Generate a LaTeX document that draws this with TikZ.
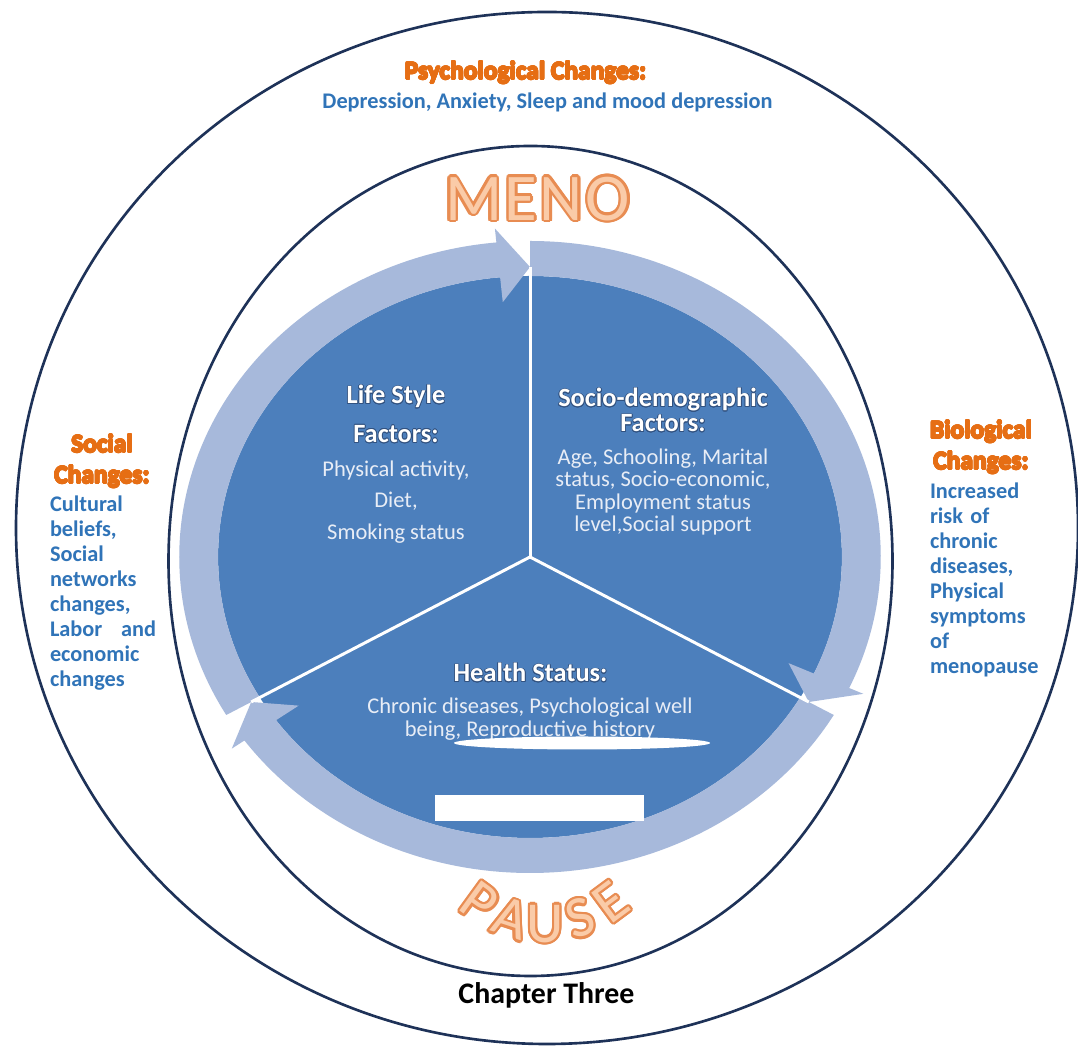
\documentclass[tikz,border=0pt]{standalone}
\usepackage{fontspec}
\setmainfont{Carlito}
\usepackage[copies]{contour}
\contourlength{0.4pt}

\definecolor{navyline}{RGB}{30,50,88}
\definecolor{discblue}{RGB}{76,127,188}
\definecolor{ringblue}{RGB}{167,185,219}
\definecolor{headorange}{RGB}{230,110,20}
\definecolor{sideblue}{RGB}{48,116,184}
\definecolor{bodywhite}{RGB}{232,237,246}
\definecolor{titleshade}{RGB}{50,82,128}
\definecolor{wordfill}{RGB}{250,203,168}
\definecolor{wordline}{RGB}{232,140,82}

% orange headings with a soft rim, white segment titles with a dark rim
\newcommand\orangeglow[1]{\contour{headorange}{#1}}
\newcommand\titlerim[1]{\contour{titleshade}{#1}}

% curved arrow in the ring: tail angle #1, tip angle #2 (runs clockwise)
\newcommand\ringarrow[2]{%
  \fill[ringblue] (#1:316) arc[start angle=#1, end angle={#2+5.5}, radius=316]
    -- ({#2+5.5}:330) -- (#2:290) -- ({#2+5.5}:256) -- ({#2+5.5}:281)
    arc[start angle={#2+5.5}, end angle=#1, radius=281] -- cycle;}

\begin{document}
\begin{tikzpicture}[x=0.02cm, y=0.02cm,
  boundary/.style={draw=navyline, line width=1.5pt},
  headtext/.style={text=headorange, font=\fontsize{14.5}{17.6}\selectfont\bfseries, align=center, inner sep=0pt},
  listtext/.style={text=sideblue, font=\fontsize{12.7}{14.2}\selectfont\bfseries, align=left, inner sep=0pt},
  segtitle/.style={text=white, font=\fontsize{15}{22}\selectfont\bfseries, align=center, inner sep=0pt},
  segtext/.style={text=bodywhite, font=\fontsize{12.8}{17.9}\selectfont, align=center, inner sep=0pt},
  bigword/.style={text=wordfill, font=\fontsize{38}{40}\selectfont, inner sep=0pt},
  pauseletter/.style={text=wordfill, font=\fontsize{33}{35}\selectfont, inner sep=0pt},
  spoke/.style={draw=white, line width=1.7pt},
  mask/.style={fill=white}
]
\useasboundingbox (0,0) rectangle (1078,1047);
\fill[white] (0,0) rectangle (1078,1047);

% outer and inner boundary ellipses
\draw[boundary] (547,519) ellipse[x radius=531, y radius=516];
\draw[boundary] (530.5,486) ellipse[x radius=362, y radius=415];

% segmented disc with its cycle of arrows
\begin{scope}[shift={(530,490)}, xscale=1.11]
  \fill[discblue] (0,0) circle[radius=281];
  \ringarrow{210}{90}
  \ringarrow{90}{-30}
  \ringarrow{-30}{-150}
  \coordinate (hub) at (0,0);
  \coordinate (spokeTop) at (90:290);
  \coordinate (spokeLeft) at (210:290);
  \coordinate (spokeRight) at (-30:290);
  \draw[spoke] (hub) -- (spokeTop);
  \draw[spoke] (hub) -- (spokeLeft);
  \draw[spoke] (hub) -- (spokeRight);
\end{scope}

% top band
\node[headtext] (psyHead) at (525.5,974) {\orangeglow{Psychological Changes:}};
\node[listtext] (psyList) at (547.5,945) {Depression, Anxiety, Sleep and mood depression};

% left band
\node[headtext] (socialHead) at (102,585.5) {\orangeglow{Social}\\\orangeglow{Changes:}};
\node[listtext, text width=2.12cm] (socialList) at (103,454)
  {Cultural\\ beliefs,\\ Social\\ networks\\ changes,\\ Labor\hfill and\\ economic\\ changes};

% right band
\node[headtext] (bioHead) at (981,599.5) {\orangeglow{Biological}\\\orangeglow{Changes:}};
\node[listtext, text width=2.2cm] (bioList) at (985,467)
  {Increased\\ risk of\\ chronic\\ diseases,\\ Physical\\ symptoms\\ of\\ menopause};

% segment texts
\node[segtitle] (lifeTitle) at (396,632.5) {\titlerim{Life Style}\\\titlerim{Factors:}};
\node[segtext] (lifeText) at (396,545) {Physical activity,\\ Diet,\\ Smoking status};

\node[segtitle, font=\fontsize{15}{14.2}\selectfont\bfseries] (socioTitle) at (663,636.5)
  {\titlerim{Socio-demographic}\\\titlerim{Factors:}};
\node[segtext, font=\fontsize{12.8}{12.8}\selectfont] (socioText) at (663,555)
  {Age, Schooling, Marital\\ status, Socio-economic,\\ Employment status\\ level,Social support};

\node[segtitle] (healthTitle) at (530.5,374) {\titlerim{Health Status:}};
\node[segtext, font=\fontsize{12.8}{13}\selectfont] (healthText) at (530,327.5)
  {Chronic diseases, Psychological well\\ being, Reproductive history};

% white patches over the lower segment
\fill[mask] (582,304) ellipse[x radius=128, y radius=6.5];
\fill[mask] (435,226) rectangle (644,252);

% MENO above, PAUSE curved below
\node[bigword] (meno) at (537.5,847)
  {\addfontfeature{LetterSpace=4}\contourlength{1.4pt}\contour{wordline}{MENO}};
\begin{scope}[shift={(545,234)}]
  \foreach \ch/\ang [count=\i] in {P/-36, A/-18, U/0, S/18.5, E/36.5}
    \node[pauseletter, rotate=\ang] (pause-\i) at ({\ang-90}:112)
      {\contourlength{1.3pt}\contour{wordline}{\ch}};
\end{scope}

\node[font=\fontsize{17}{20}\selectfont\bfseries, inner sep=0pt] (chapter) at (546.5,52) {Chapter Three};
\end{tikzpicture}
\end{document}
